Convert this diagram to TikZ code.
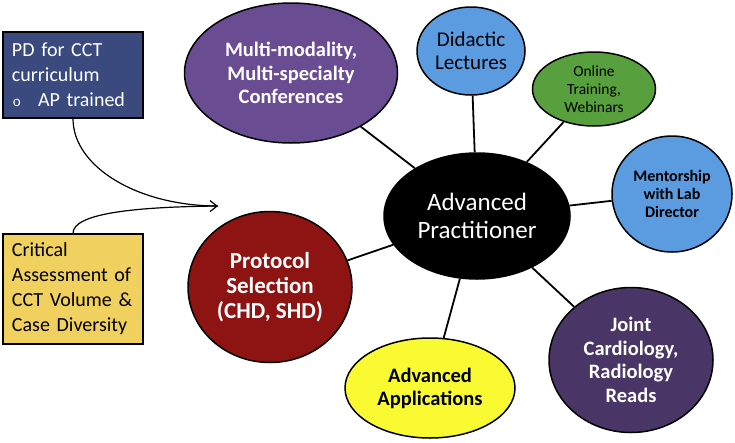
\documentclass[tikz,border=0pt]{standalone}
\usepackage{fontspec}
\setmainfont{Carlito}
\usetikzlibrary{shapes.geometric,arrows.meta}
\definecolor{pdblue}{RGB}{58,74,126}
\definecolor{boxyellow}{RGB}{240,208,94}
\definecolor{confpurple}{RGB}{106,76,147}
\definecolor{lightblue}{RGB}{91,155,224}
\definecolor{onlinegreen}{RGB}{88,160,62}
\definecolor{protored}{RGB}{142,20,20}
\definecolor{appyellow}{RGB}{250,250,50}
\definecolor{jointpurple}{RGB}{74,54,102}
\tikzset{
  bubble/.style={ellipse, draw=black, line width=1.5pt, inner sep=0pt, align=center},
  sidebox/.style={rectangle, draw=black, line width=1.3pt, inner xsep=9pt, inner ysep=0pt,
    text width=122pt, minimum width=140pt, align=left, font=\fontsize{20}{25}\selectfont},
  spoke/.style={line width=1.8pt},
  feed/.style={line width=1.2pt}
}
\begin{document}
\begin{tikzpicture}[x=1pt,y=-1pt]
\useasboundingbox (0,0) rectangle (735,442);
% side boxes
\node[sidebox, fill=pdblue, text=white, minimum height=86pt] (pd) at (73,75)
  {PD for CCT\\curriculum\\\makebox[26pt][l]{\hspace{1pt}\fontsize{15}{15}\selectfont o}AP trained};
\node[sidebox, fill=boxyellow, text=black, minimum height=110pt] (crit) at (73,289)
  {Critical\\Assessment of\\CCT Volume \&\\Case Diversity};
% bubbles
\node[bubble, fill=black, text=white, minimum width=186pt, minimum height=126pt,
  font=\fontsize{25}{28}\selectfont] (ap) at (477,216) {Advanced\\Practitioner};
\node[bubble, fill=confpurple, text=white, minimum width=213pt, minimum height=140pt,
  font=\bfseries\fontsize{20.5}{23.5}\selectfont] (conf) at (291,73)
  {Multi-modality,\\Multi-specialty\\Conferences};
\node[bubble, fill=lightblue, text=black, minimum width=108pt, minimum height=88pt,
  font=\fontsize{21}{23}\selectfont] (did) at (471,51) {Didactic\\Lectures};
\node[bubble, fill=onlinegreen, text=black, minimum width=123pt, minimum height=74pt,
  font=\fontsize{15.5}{18}\selectfont] (onl) at (594,89) {Online\\Training,\\Webinars};
\node[bubble, fill=lightblue, text=black, minimum width=120pt, minimum height=116pt,
  font=\bfseries\fontsize{16}{18}\selectfont] (ment) at (672,194) {Mentorship\\with Lab\\Director};
\node[bubble, fill=protored, text=white, minimum width=164pt, minimum height=151pt,
  font=\bfseries\fontsize{23}{25}\selectfont] (prot) at (270,287) {Protocol\\Selection\\(CHD, SHD)};
\node[bubble, fill=appyellow, text=black, minimum width=170pt, minimum height=100pt,
  font=\bfseries\fontsize{20.5}{23}\selectfont] (app) at (430,388) {Advanced\\Applications};
\node[bubble, fill=jointpurple, text=white, minimum width=164pt, minimum height=145pt,
  font=\bfseries\fontsize{20.5}{23.5}\selectfont] (joint) at (631,360)
  {Joint\\Cardiology,\\Radiology\\Reads};
% spokes
\foreach \n in {conf,did,onl,ment,joint,app,prot}
  \draw[spoke] (ap) -- (\n);
% feeding arrows
\coordinate (tip) at (218,206);
\draw[feed] (pd.south) .. controls (73,167) and (138,206) .. (tip);
\draw[feed, -{Straight Barb[length=7pt,width=11pt]}] (crit.north) .. controls (73,214) and (130,207) .. (tip);
\end{tikzpicture}
\end{document}
